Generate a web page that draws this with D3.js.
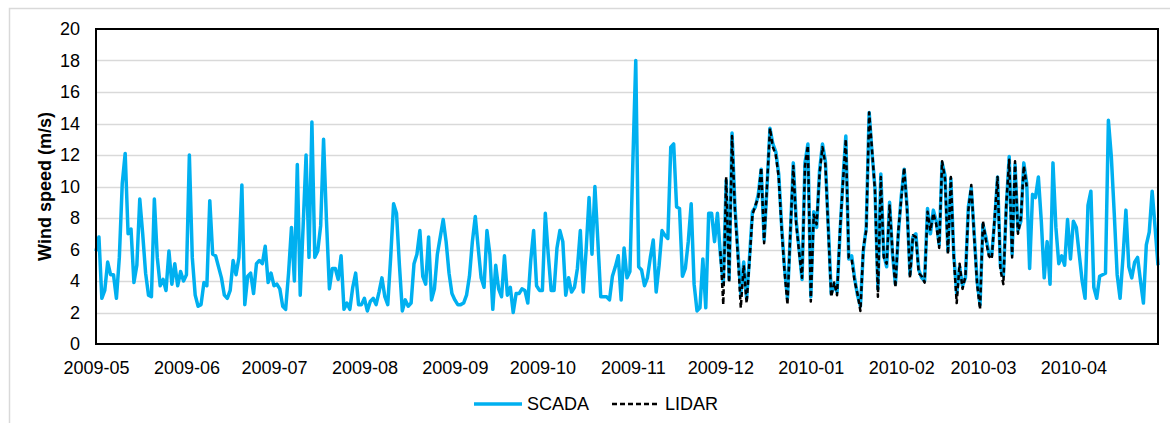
<!DOCTYPE html>
<html>
<head>
<meta charset="utf-8">
<script src="https://cdn.jsdelivr.net/npm/d3@7"></script>
<style>
  html, body { margin: 0; padding: 0; background: #fff; }
  svg { display: block; font-family: "Liberation Sans", Arial, sans-serif; }
</style>
</head>
<body>
<div id="chart"></div>
<script>
// Daily mean wind speed (m/s), SCADA from 2009-05-01, LIDAR from 2009-12-01
const scadaStart = "2009-05-01";
const lidarStart = "2009-12-01";
const axisEnd = "2010-04-30";

const scadaValues = [
    5.9, 6.8, 2.9, 3.4, 5.2, 4.4, 4.4, 2.9, 5.5, 10.2,
    12.1, 7.0, 7.3, 3.9, 5.0, 9.2, 7.0, 4.5, 3.1, 3.0,
    9.2, 5.5, 3.7, 4.1, 3.4, 5.9, 3.8, 5.1, 3.7, 4.6,
    4.0, 4.4, 12.0, 5.5, 3.1, 2.4, 2.5, 3.9, 3.7, 9.1,
    5.7, 5.6, 4.9, 4.2, 3.1, 2.9, 3.4, 5.3, 4.4, 5.5,
    10.1, 2.5, 4.3, 4.5, 3.2, 5.1, 5.3, 5.1, 6.2, 3.9,
    4.5, 3.7, 3.8, 3.5, 2.4, 2.2, 4.5, 7.4, 4.0, 11.4,
    3.1, 7.5, 12.0, 5.5, 14.1, 5.5, 5.9, 7.5, 13.0, 7.8,
    3.5, 4.8, 4.8, 4.1, 5.6, 2.2, 2.6, 2.2, 3.6, 4.5,
    2.5, 2.5, 2.9, 2.1, 2.7, 2.9, 2.5, 3.3, 4.2, 3.0,
    2.5, 5.5, 8.9, 8.3, 5.0, 2.1, 2.8, 2.4, 2.6, 5.1,
    5.7, 7.2, 4.3, 3.8, 6.8, 2.8, 3.5, 5.7, 6.8, 7.9,
    6.5, 4.5, 3.2, 2.8, 2.5, 2.5, 2.6, 3.1, 4.3, 6.5,
    8.1, 6.1, 4.2, 3.6, 7.2, 5.7, 2.2, 5.0, 3.5, 3.0,
    5.6, 3.1, 3.6, 2.0, 3.2, 3.2, 3.5, 3.4, 2.6, 5.3,
    7.2, 3.7, 3.4, 3.4, 8.3, 5.7, 3.4, 3.4, 6.1, 7.2,
    6.5, 3.1, 4.2, 3.3, 3.6, 4.8, 7.2, 3.3, 6.0, 9.3,
    5.7, 10.0, 6.6, 3.0, 3.0, 3.0, 2.8, 4.3, 4.9, 5.6,
    2.8, 6.1, 4.2, 4.6, 11.5, 18.0, 4.9, 4.7, 3.7, 4.2,
    5.5, 6.6, 3.3, 5.0, 7.2, 6.9, 6.7, 12.5, 12.7, 8.7,
    8.6, 4.3, 4.8, 6.5, 8.9, 3.8, 2.1, 2.3, 5.4, 2.3,
    8.3, 8.3, 6.5, 8.3, 5.7, 3.8, 10.4, 4.1, 13.4, 8.7,
    5.9, 3.2, 5.2, 2.9, 5.5, 8.4, 8.7, 9.5, 11.1, 6.6,
    10.0, 13.7, 12.7, 12.2, 10.8, 7.5, 4.8, 2.9, 7.0, 11.5,
    7.8, 6.0, 4.1, 11.5, 12.7, 3.0, 8.4, 7.4, 11.0, 12.7,
    11.6, 7.4, 3.2, 3.8, 3.3, 7.0, 10.4, 13.2, 5.4, 5.6,
    4.2, 3.1, 2.4, 5.9, 7.4, 14.7, 12.1, 9.9, 3.5, 10.8,
    5.7, 4.9, 9.0, 5.7, 3.8, 7.0, 9.4, 11.1, 8.7, 4.4,
    6.8, 7.0, 4.7, 4.2, 4.0, 8.6, 7.0, 8.5, 7.8, 6.3,
    11.5, 10.7, 5.9, 10.5, 5.7, 3.2, 4.9, 3.7, 4.2, 8.7,
    9.9, 7.0, 4.0, 2.5, 7.6, 6.8, 5.8, 5.6, 7.8, 10.6,
    4.9, 4.3, 8.7, 11.9, 5.7, 11.4, 7.2, 7.8, 11.5, 10.2,
    4.8, 9.5, 9.3, 10.6, 7.8, 4.2, 6.5, 3.8, 11.5, 7.4,
    5.1, 5.6, 5.0, 7.9, 5.4, 7.8, 7.4, 5.7, 4.0, 2.9,
    8.8, 9.7, 3.6, 2.9, 4.3, 4.4, 4.5, 14.2, 11.9, 8.3,
    4.4, 2.9, 5.5, 8.5, 4.9, 4.2, 5.2, 5.5, 4.0, 2.6,
    6.3, 7.1, 9.7, 7.4, 5.0
];

const lidarValues = [
    5.9, 2.5, 10.6, 3.9, 13.2, 8.5, 5.6, 2.3, 5.0, 2.6,
    5.3, 8.2, 8.8, 9.3, 11.2, 6.4, 10.1, 13.7, 12.5, 12.0,
    10.6, 7.3, 4.6, 2.5, 7.2, 11.3, 7.6, 5.8, 4.2, 11.3,
    12.6, 2.7, 8.2, 7.6, 10.8, 12.5, 11.4, 7.2, 3.0, 3.9,
    3.1, 7.2, 10.2, 13.0, 5.5, 5.4, 4.0, 3.2, 2.1, 6.1,
    7.2, 14.7, 12.3, 9.7, 3.0, 10.6, 5.5, 5.1, 8.8, 5.9,
    3.6, 7.2, 9.2, 11.2, 8.5, 4.2, 6.9, 6.8, 4.5, 4.3,
    3.9, 8.4, 7.2, 8.3, 7.6, 6.1, 11.6, 10.5, 5.7, 10.6,
    5.5, 2.6, 5.1, 3.5, 4.3, 8.5, 10.1, 6.8, 3.8, 2.2,
    7.8, 6.6, 5.6, 5.4, 8.0, 10.6, 4.7, 3.8, 8.9, 11.7,
    5.5, 11.6, 7.0, 8.0, 11.3, 10.0
];

const yTicks = [0, 2, 4, 6, 8, 10, 12, 14, 16, 18, 20];
const seriesNames = ["SCADA", "LIDAR"];
const seriesColors = ["#00b0f0", "#000000"];

const W = 1170, H = 423;
const margin = { top: 29, right: 12, bottom: 79, left: 96 };
const width = W - margin.left - margin.right;
const height = H - margin.top - margin.bottom;

const parse = d3.timeParse("%Y-%m-%d");
const toSeries = (start, values) =>
    values.map((v, i) => ({ date: d3.timeDay.offset(parse(start), i), value: v }));

const scada = toSeries(scadaStart, scadaValues);
const lidar = toSeries(lidarStart, lidarValues);

const svg = d3.select("#chart")
    .append("svg")
    .attr("width", W)
    .attr("height", H);

// marco exterior
svg.append("rect")
    .attr("x", 9.5).attr("y", 8.5)
    .attr("width", W).attr("height", H)
    .attr("fill", "none")
    .attr("stroke", "#d9d9d9")
    .attr("stroke-width", 1.5);

const g = svg.append("g")
    .attr("transform", `translate(${margin.left},${margin.top})`);

const x = d3.scaleTime()
    .domain([parse(scadaStart), parse(axisEnd)])
    .range([0, width]);

const y = d3.scaleLinear()
    .domain([0, 20])
    .range([height, 0]);

// rejilla
g.append("g")
    .selectAll("line")
    .data(yTicks.filter(t => t > 0 && t < 20))
    .enter()
    .append("line")
    .attr("x1", 0).attr("x2", width)
    .attr("y1", d => Math.round(y(d)) + 0.5)
    .attr("y2", d => Math.round(y(d)) + 0.5)
    .attr("stroke", "#d9d9d9")
    .attr("stroke-width", 1.5);

// ejes
const xAxis = g.append("g")
    .attr("transform", `translate(0,${height})`)
    .call(d3.axisBottom(x)
        .ticks(d3.timeMonth.every(1))
        .tickFormat(d3.timeFormat("%Y-%m"))
        .tickSize(0)
        .tickPadding(17));
xAxis.select(".domain").remove();

const yAxis = g.append("g")
    .call(d3.axisLeft(y)
        .tickValues(yTicks)
        .tickSize(0)
        .tickPadding(16));
yAxis.select(".domain").remove();

svg.selectAll(".tick text")
    .attr("font-size", 18)
    .attr("font-family", "Liberation Sans, Arial, sans-serif")
    .attr("fill", "#000");

// líneas
const line = d3.line()
    .x(d => x(d.date))
    .y(d => y(d.value));

g.append("path")
    .datum(scada)
    .attr("fill", "none")
    .attr("stroke", seriesColors[0])
    .attr("stroke-width", 3.5)
    .attr("stroke-linejoin", "round")
    .attr("d", line);

g.append("path")
    .datum(lidar)
    .attr("fill", "none")
    .attr("stroke", seriesColors[1])
    .attr("stroke-width", 2.5)
    .attr("stroke-dasharray", "5,3")
    .attr("stroke-linejoin", "round")
    .attr("d", line);

// borde del área de trazado
g.append("rect")
    .attr("x", 0).attr("y", 0)
    .attr("width", width).attr("height", height)
    .attr("fill", "none")
    .attr("stroke", "#000")
    .attr("stroke-width", 2);

// título eje Y
svg.append("text")
    .attr("transform", `translate(51,${margin.top + height / 2}) rotate(-90)`)
    .attr("text-anchor", "middle")
    .attr("font-size", 18)
    .attr("font-weight", "bold")
    .attr("fill", "#000")
    .text("Wind speed (m/s)");

// leyenda
const legend = svg.append("g").attr("transform", "translate(474,404)");
const items = [
    { name: seriesNames[0], color: seriesColors[0], dash: null, width: 3.5, x0: 0 },
    { name: seriesNames[1], color: seriesColors[1], dash: "5,3", width: 2.5, x0: 138 }
];
items.forEach(it => {
    legend.append("line")
        .attr("x1", it.x0).attr("x2", it.x0 + 48)
        .attr("y1", 0).attr("y2", 0)
        .attr("stroke", it.color)
        .attr("stroke-width", it.width)
        .attr("stroke-dasharray", it.dash);
    legend.append("text")
        .attr("x", it.x0 + 53)
        .attr("y", 6)
        .attr("font-size", 18)
        .attr("fill", "#000")
        .text(it.name);
});
</script>
</body>
</html>
